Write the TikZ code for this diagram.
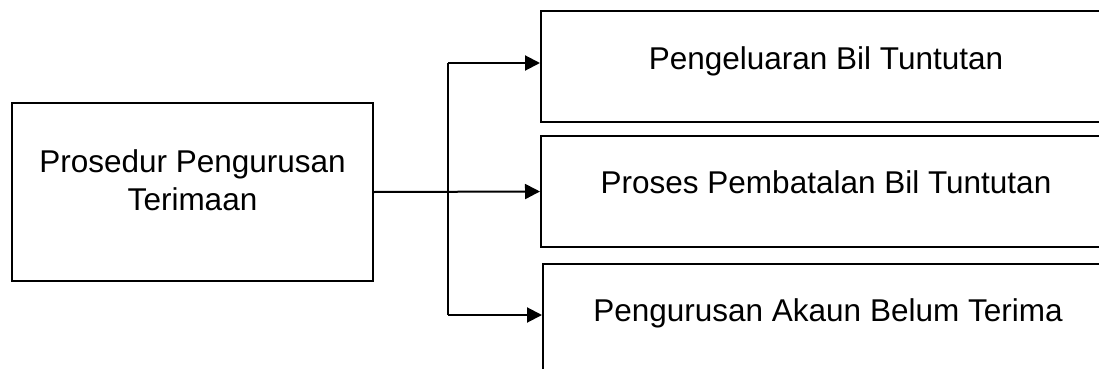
\documentclass[tikz,border=0pt]{standalone}
\usepackage{fontspec}
\setmainfont{Liberation Sans}
\usetikzlibrary{arrows.meta}
\begin{document}
\begin{tikzpicture}[x=1pt,y=-1pt,
  every node/.style={font=\fontsize{31.5}{38}\selectfont},
  box/.style={draw,line width=2pt,inner sep=0pt,anchor=north west},
  rbox/.style={box,minimum width=570pt,text height=57pt},
  link/.style={line width=2pt},
  arr/.style={link,-{Triangle[length=15pt,width=15pt]}}]
\useasboundingbox (0,0) rectangle (1099,369);
\clip (0,0) rectangle (1099,369);
\fill[white] (0,0) rectangle (1099,369);
\node[box,minimum width=361pt,minimum height=178pt,align=center] (src) at (11,102)
  {Prosedur Pengurusan\\Terimaan\rule[-24pt]{0pt}{24pt}};
\node[rbox,text height=58pt,text depth=53pt] (b1) at (540,10) {Pengeluaran Bil Tuntutan};
\node[rbox,text depth=54pt] (b2) at (540,135) {Proses Pembatalan Bil Tuntutan};
\node[rbox,text depth=55pt] (b3) at (542,263) {Pengurusan Akaun Belum Terima};
\coordinate (jt) at (448,63);
\coordinate (jb) at (448,315);
\draw[arr] (src.east) -- (b2.west);
\draw[link] (jt) -- (jb);
\draw[arr] (jt) -- (jt -| b1.west);
\draw[arr] (jb) -- (jb -| b3.west);
\end{tikzpicture}
\end{document}
